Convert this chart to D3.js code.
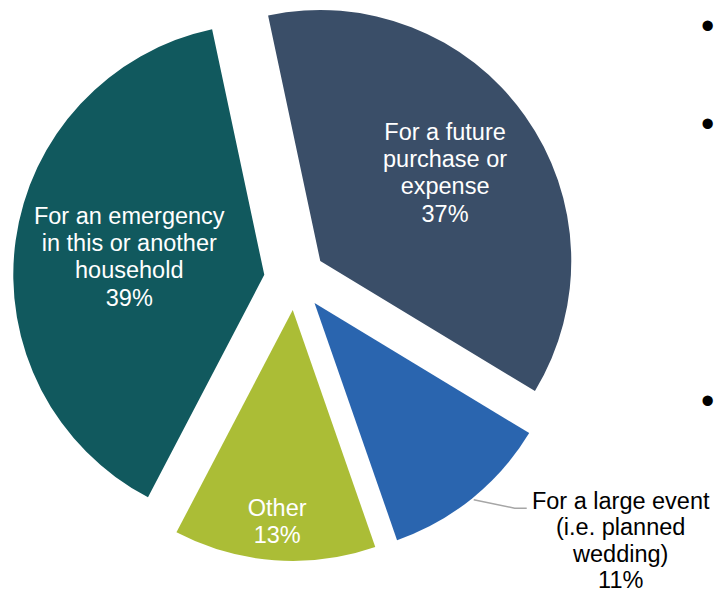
<!DOCTYPE html>
<html>
<head>
<meta charset="utf-8">
<script src="https://cdn.jsdelivr.net/npm/d3@7"></script>
<style>
  html, body { margin: 0; padding: 0; background: #ffffff; }
  svg { display: block; }
  text { font-family: "Liberation Sans", Arial, Helvetica, sans-serif; }
</style>
</head>
<body>
<svg id="chart" width="717" height="593"></svg>
<script>
// Reasons for saving money (share of respondents, %)
const categories = [
  "For a future purchase or expense",
  "For a large event (i.e. planned wedding)",
  "Other",
  "For an emergency in this or another household"
];
const shares = [37, 11, 13, 39];
const labelLines = [
  ["For a future", "purchase or", "expense"],
  ["For a large event", "(i.e. planned", "wedding)"],
  ["Other"],
  ["For an emergency", "in this or another", "household"]
];
const sliceColors = ["#3a4e68", "#2a65af", "#abbd36", "#11595e"];

// Layout
const W = 717, H = 593;
const cx = 295, cy = 279;      // pie centre
const radius = 251;
const explode = 31;            // every slice is pulled out along its mid-angle
const startDeg = -12;
const fontSize = 23.5, lineH = 27.2;
// where each inside label sits, as a fraction of the radius along the mid-angle
const labelFactor = [0.61, null, 0.845, 0.543];

const svg = d3.select("#chart");
svg.append("rect").attr("width", W).attr("height", H).attr("fill", "#ffffff");

const data = categories.map((c, i) => ({ name: c, value: shares[i], lines: labelLines[i], color: sliceColors[i], lf: labelFactor[i] }));

const pie = d3.pie()
  .sort(null)
  .value(d => d.value)
  .startAngle(startDeg * Math.PI / 180)
  .endAngle(startDeg * Math.PI / 180 + 2 * Math.PI);

const arc = d3.arc().innerRadius(0).outerRadius(radius);
const arcs = pie(data);

const dir = a => [Math.sin(a), -Math.cos(a)];

const g = svg.append("g").attr("transform", `translate(${cx},${cy})`);

const slices = g.selectAll("g.slice")
  .data(arcs)
  .join("g")
  .attr("class", "slice")
  .attr("transform", d => {
    const m = (d.startAngle + d.endAngle) / 2;
    const [ux, uy] = dir(m);
    return `translate(${ux * explode},${uy * explode})`;
  });

slices.append("path")
  .attr("d", arc)
  .attr("fill", d => d.data.color);

// labels inside the slices
slices.filter(d => d.data.lf !== null).each(function(d) {
  const m = (d.startAngle + d.endAngle) / 2;
  const [ux, uy] = dir(m);
  const r = radius * d.data.lf;
  const px = ux * r, py = uy * r;
  const lines = d.data.lines.concat([d.data.value + "%"]);
  const n = lines.length;
  const t = d3.select(this).append("text")
    .attr("text-anchor", "middle")
    .attr("fill", "#ffffff")
    .attr("font-size", fontSize);
  lines.forEach((ln, i) => {
    t.append("tspan")
      .attr("x", px)
      .attr("y", py + (i - (n - 1) / 2) * lineH + 0.36 * fontSize)
      .text(ln);
  });
});

// outside label with a leader line
slices.filter(d => d.data.lf === null).each(function(d) {
  const m = (d.startAngle + d.endAngle) / 2;
  const [ux, uy] = dir(m);
  const x0 = ux * (radius + 2), y0 = uy * (radius + 2);
  const elbow = [x0 + 41, y0 + 8.5];
  const end = [elbow[0] + 12, elbow[1]];
  d3.select(this).append("path")
    .attr("d", d3.line()([[x0, y0], elbow, end]))
    .attr("fill", "none")
    .attr("stroke", "#a6a6a6")
    .attr("stroke-width", 1.5);
  const lines = d.data.lines.concat([d.data.value + "%"]);
  const tx = end[0] + 94;
  const t = d3.select(this).append("text")
    .attr("text-anchor", "middle")
    .attr("fill", "#000000")
    .attr("font-size", fontSize);
  lines.forEach((ln, i) => {
    t.append("tspan")
      .attr("x", tx)
      .attr("y", end[1] + 0.5 + i * 26.6)
      .text(ln);
  });
});

// bullet markers along the right edge
const bullets = ["•", "•", "•"];
const bulletY = [27.3, 125.3, 402.3];
const bulletSize = 38;
svg.selectAll("text.bullet")
  .data(bullets)
  .join("text")
  .attr("class", "bullet")
  .attr("x", 707.7)
  .attr("y", (d, i) => bulletY[i] + 0.3 * bulletSize)
  .attr("text-anchor", "middle")
  .attr("font-size", bulletSize)
  .attr("fill", "#000000")
  .text(d => d);
</script>
</body>
</html>
